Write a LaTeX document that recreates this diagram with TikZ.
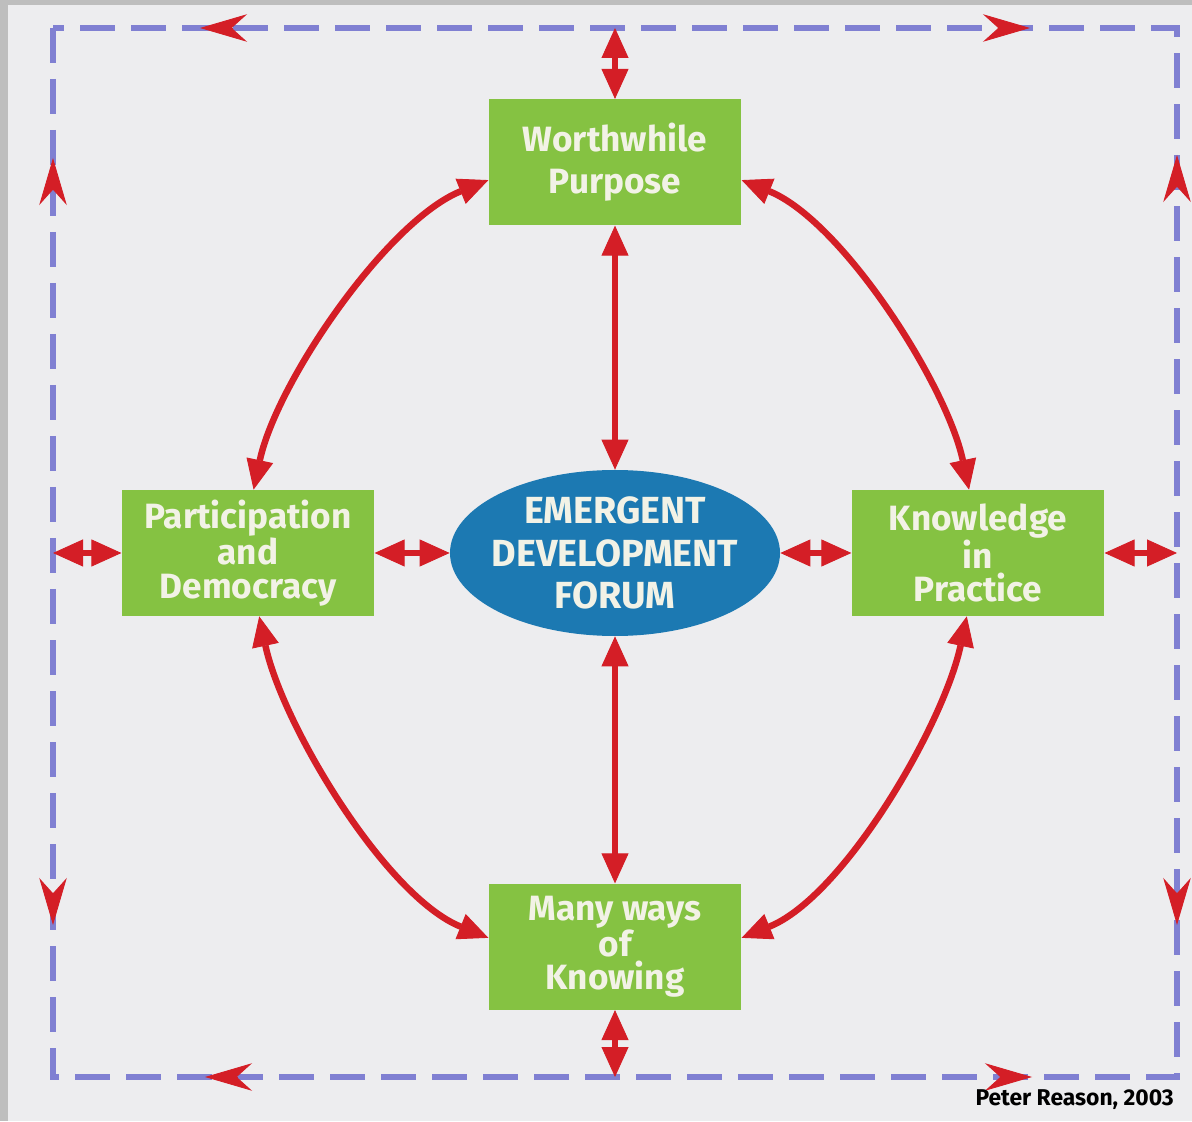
\documentclass[tikz,border=0pt]{standalone}
\usepackage{fontspec}
\setmainfont{Fira Sans}
\usetikzlibrary{shapes,positioning,arrows.meta}
\definecolor{boxgreen}{RGB}{133,194,66}
\definecolor{forumblue}{RGB}{28,121,178}
\definecolor{arrowred}{RGB}{212,30,38}
\definecolor{borderblue}{RGB}{128,128,210}
\definecolor{paper}{RGB}{237,237,239}
\definecolor{scanedge}{RGB}{190,190,190}
\definecolor{boxtext}{RGB}{242,242,230}

\begin{document}
\begin{tikzpicture}
  [node distance=4.88cm,
   baseN/.style={text=boxtext, align=center, inner sep=0pt,
                 font=\bfseries\fontsize{20}{24}\selectfont},
   boxN/.style={rectangle, baseN, fill=boxgreen, minimum width=5.05cm, minimum height=2.52cm},
   threeN/.style={boxN, font=\bfseries\fontsize{20}{19}\selectfont},
   forumN/.style={ellipse, baseN, fill=forumblue, minimum width=6.6cm, minimum height=3.32cm,
                  inner xsep=-0.3cm, font=\bfseries\fontsize{21.5}{24}\selectfont},
   linkA/.style={draw=arrowred, line width=0.13cm,
                 {Triangle[length=0.6cm,width=0.54cm,line width=0.5pt]}-{Triangle[length=0.6cm,width=0.54cm,line width=0.5pt]}},
   edgeA/.style={draw=arrowred, line width=0.5pt, -{Stealth[length=0.94cm,width=0.55cm]}},
   borderL/.style={draw=borderblue, line width=0.11cm, dash pattern=on 0.7cm off 0.32cm},
  ]

 \useasboundingbox (0,0) rectangle (23.84,22.42);
 \fill[scanedge] (0,0) rectangle (23.84,22.42);
 \fill[paper] (0.16,0) rectangle (23.84,22.32);

 \coordinate (nw) at (1.06,21.86);
 \coordinate (se) at (23.54,0.88);
 \draw[borderL] (nw) rectangle (se);
 \foreach \tip/\dir in {{4.0,21.86}/180, {20.6,21.86}/0, {4.1,0.88}/180, {20.64,0.88}/0,
                        {1.06,19.26}/90, {1.06,3.92}/270, {23.54,19.32}/90, {23.54,3.92}/270}
   \draw[edgeA] (\tip) ++(\dir+180:0.65) -- ++(\dir:0.65);

 \node[forumN] (forum) at (12.3,11.36) {EMERGENT\\DEVELOPMENT\\FORUM};
 \node[boxN] (wp) [above=of forum] {Worthwhile\\Purpose};
 \node[threeN] (mwk) [below=4.94cm of forum] {Many ways\\of\\Knowing};
 \node[threeN] (pd) [left=1.5cm of forum] {Participation\\and\\Democracy};
 \node[threeN] (kp) [right=1.42cm of forum] {Knowledge\\in\\Practice};

 \draw[linkA] (wp.south) -- (forum.north);
 \draw[linkA] (forum.south) -- (mwk.north);
 \draw[linkA] (pd.east) -- (forum.west);
 \draw[linkA] (forum.east) -- (kp.west);

 \draw[linkA] (pd.85) to[out=78,in=202,looseness=0.72] (wp.188);
 \draw[linkA] (kp.98) to[out=102,in=-22,looseness=0.72] (wp.-8);
 \draw[linkA] (pd.-80) to[out=-78,in=158,looseness=0.72] (mwk.176);
 \draw[linkA] (kp.-100) to[out=-102,in=22,looseness=0.72] (mwk.4);

 \draw[linkA] (wp.north) -- (wp.north |- nw);
 \draw[linkA] (mwk.south) -- (mwk.south |- se);
 \draw[linkA] (pd.west) -- (pd.west -| nw);
 \draw[linkA] (kp.east) -- (kp.east -| se);

 \node[anchor=base east, text=black, font=\bfseries\fontsize{13}{15}\selectfont]
   (credit) at (23.6,0.32) {Peter Reason, 2003};

\end{tikzpicture}
\end{document}
